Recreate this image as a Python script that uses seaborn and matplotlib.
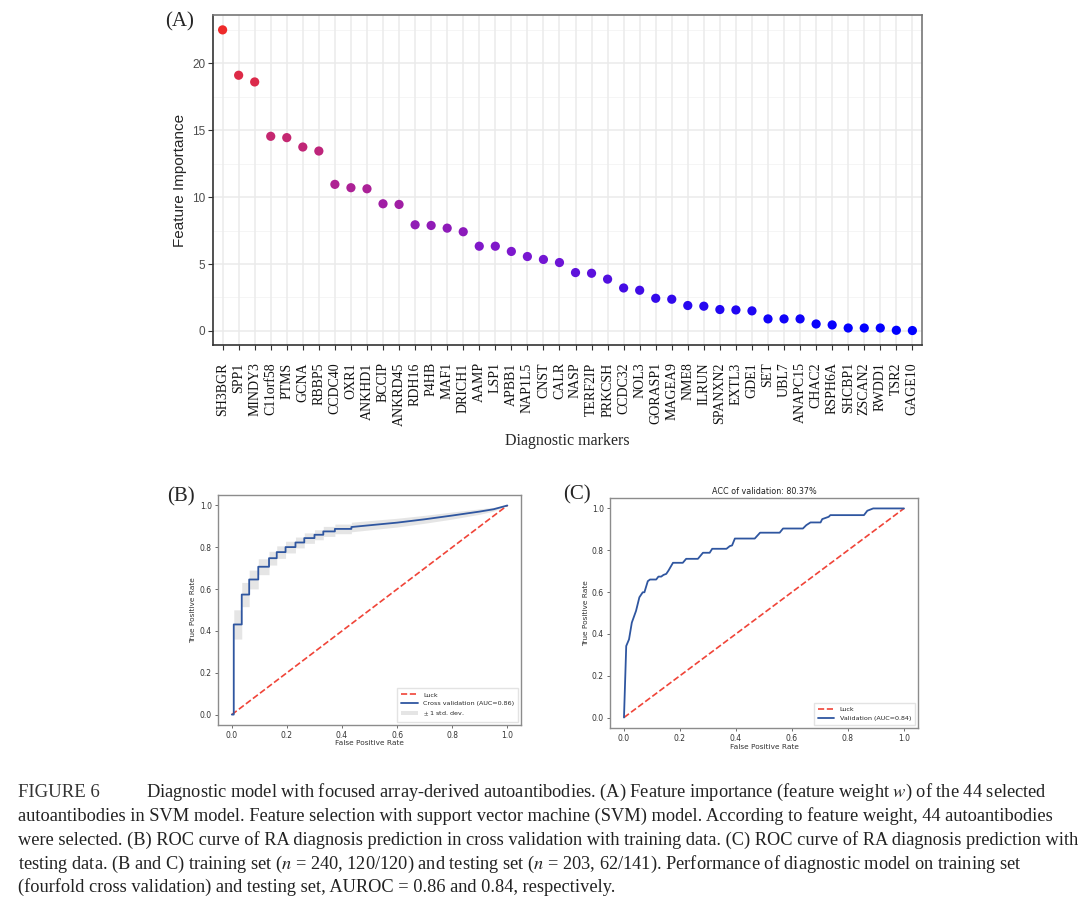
import numpy as np
import pandas as pd
import matplotlib.pyplot as plt
import seaborn as sns
from matplotlib.colors import LinearSegmentedColormap

# Panel A: feature weight of the 44 selected autoantibodies (SVM)
markers = ['SH3BGR', 'SPP1', 'MINDY3', 'C11orf58', 'PTMS', 'GCNA', 'RBBP5',
           'CCDC40', 'OXR1', 'ANKHD1', 'BCCIP', 'ANKRD45', 'RDH16', 'P4HB',
           'MAF1', 'DRICH1', 'AAMP', 'LSP1', 'APBB1', 'NAP1L5', 'CNST', 'CALR',
           'NASP', 'TERF2IP', 'PRKCSH', 'CCDC32', 'NOL3', 'GORASP1', 'MAGEA9',
           'NME8', 'ILRUN', 'SPANXN2', 'EXTL3', 'GDE1', 'SET', 'UBL7',
           'ANAPC15', 'CHAC2', 'RSPH6A', 'SHCBP1', 'ZSCAN2', 'RWDD1', 'TSR2',
           'GAGE10']
importance = [22.49, 19.10, 18.60, 14.54, 14.44, 13.74, 13.44,
              10.95, 10.70, 10.62, 9.50, 9.45, 7.93, 7.88,
              7.68, 7.41, 6.33, 6.33, 5.94, 5.56, 5.34, 5.11,
              4.36, 4.31, 3.87, 3.21, 3.04, 2.44, 2.37,
              1.90, 1.85, 1.60, 1.57, 1.50, 0.90, 0.90,
              0.90, 0.52, 0.45, 0.22, 0.22, 0.22, 0.05,
              0.03]
y_ticks = [0, 5, 10, 15, 20]

# Panel B: mean ROC of fourfold cross validation (training set)
cv_fpr = [0.0, 0.007, 0.007, 0.036, 0.036, 0.063, 0.063, 0.096, 0.096, 0.135,
          0.135, 0.163, 0.163, 0.195, 0.195, 0.231, 0.231, 0.263, 0.263, 0.300,
          0.300, 0.332, 0.332, 0.374, 0.374, 0.434, 0.434, 0.52, 0.60, 0.70,
          0.80, 0.90, 0.95, 1.0]
cv_tpr = [0.0, 0.0, 0.431, 0.431, 0.574, 0.574, 0.646, 0.646, 0.707, 0.707,
          0.748, 0.748, 0.777, 0.777, 0.801, 0.801, 0.823, 0.823, 0.844, 0.844,
          0.860, 0.860, 0.876, 0.876, 0.888, 0.888, 0.897, 0.908, 0.918, 0.934,
          0.952, 0.971, 0.982, 1.0]
cv_std = [0.0, 0.0, 0.07, 0.07, 0.058, 0.058, 0.045, 0.045, 0.038, 0.038,
          0.033, 0.033, 0.03, 0.03, 0.028, 0.028, 0.026, 0.026, 0.025, 0.025,
          0.024, 0.024, 0.024, 0.024, 0.023, 0.023, 0.023, 0.022, 0.021, 0.019,
          0.017, 0.013, 0.009, 0.0]

# Panel C: ROC on testing set
val_fpr = [0.0, 0.008, 0.018, 0.028, 0.043, 0.055, 0.067, 0.073, 0.085, 0.093,
           0.115, 0.123, 0.133, 0.141, 0.151, 0.159, 0.175, 0.210, 0.222, 0.264,
           0.282, 0.306, 0.315, 0.366, 0.378, 0.386, 0.396, 0.467, 0.486, 0.556,
           0.568, 0.639, 0.651, 0.666, 0.702, 0.708, 0.731, 0.737, 0.857, 0.869,
           0.890, 1.0]
val_tpr = [0.0, 0.342, 0.374, 0.454, 0.510, 0.575, 0.599, 0.599, 0.652, 0.660,
           0.660, 0.674, 0.674, 0.682, 0.687, 0.703, 0.740, 0.740, 0.759, 0.759,
           0.788, 0.788, 0.807, 0.807, 0.820, 0.823, 0.856, 0.856, 0.884, 0.884,
           0.904, 0.904, 0.920, 0.933, 0.933, 0.949, 0.960, 0.968, 0.968, 0.989,
           1.0, 1.0]
luck = [0.0, 1.0]
roc_ticks = [0.0, 0.2, 0.4, 0.6, 0.8, 1.0]

caption_head = 'FIGURE 6'
caption_lines = [
    'Diagnostic model with focused array-derived autoantibodies. (A) Feature importance (feature weight $w$) of the 44 selected',
    'autoantibodies in SVM model. Feature selection with support vector machine (SVM) model. According to feature weight, 44 autoantibodies',
    'were selected. (B) ROC curve of RA diagnosis prediction in cross validation with training data. (C) ROC curve of RA diagnosis prediction with',
    'testing data. (B and C) training set ($n$ = 240, 120/120) and testing set ($n$ = 203, 62/141). Performance of diagnostic model on training set',
    '(fourfold cross validation) and testing set, AUROC = 0.86 and 0.84, respectively.',
]

sns.set_style('white')
plt.rcParams['font.family'] = ['DejaVu Sans']
plt.rcParams['mathtext.fontset'] = 'stix'
SERIF = 'Liberation Serif'
SANS = 'Liberation Sans'
LINE_BLUE = '#2F56A0'
LUCK_RED = '#F04438'

fig = plt.figure(figsize=(10.8, 9.21), dpi=100)
axA = fig.add_axes([0.1972, 0.6254, 0.6565, 0.3583])
axB = fig.add_axes([0.2019, 0.2128, 0.2806, 0.2497])
axC = fig.add_axes([0.5648, 0.2096, 0.2852, 0.2497])

# ---------- (A) feature importance ----------
df = pd.DataFrame({'marker': markers, 'importance': importance})
cmap = LinearSegmentedColormap.from_list(
    'blue_red', ['#0000FF', '#7A17D0', '#B2228F', '#D22A5A', '#EE2A2A'])
axA.set_axisbelow(True)
for y in np.arange(2.5, 25, 5):
    axA.axhline(y, color='#F4F4F4', lw=0.6, zorder=0)
for y in y_ticks:
    axA.axhline(y, color='#EBEBEB', lw=1.1, zorder=0)
for i in range(len(markers)):
    axA.axvline(i, color='#EBEBEB', lw=1.1, zorder=0)
sns.scatterplot(data=df, x='marker', y='importance', hue='importance',
                palette=cmap, hue_norm=(min(importance), max(importance)),
                s=44, linewidth=0, legend=False, ax=axA, zorder=3)
axA.set_xlim(-0.6, len(markers) - 0.4)
axA.set_ylim(-1.05, 23.6)
axA.set_xticks(range(len(markers)), markers, rotation=90,
               fontfamily=SERIF, fontsize=10, color='#111111')
axA.set_yticks(y_ticks, [str(t) for t in y_ticks], fontfamily=SANS,
               fontsize=8.5, color='#4D4D4D')
axA.tick_params(axis='both', length=3.5, width=0.8, color='#333333',
                direction='out', left=True, bottom=True, pad=2)
axA.tick_params(axis='x', pad=9)
for side in ['top', 'right']:
    axA.spines[side].set_color('#777777')
    axA.spines[side].set_linewidth(1.2)
for side in ['left', 'bottom']:
    axA.spines[side].set_color('#333333')
    axA.spines[side].set_linewidth(1.2)
axA.set_ylabel('Feature Importance', fontfamily=SANS, fontsize=11)
axA.yaxis.set_label_coords(-0.037, 0.5)
axA.set_xlabel('Diagnostic markers', fontfamily=SERIF, fontsize=11.5)
axA.xaxis.set_label_coords(0.5, -0.268)


def style_roc(ax):
    ax.set_xlim(-0.05, 1.05)
    ax.set_ylim(-0.05, 1.05)
    labels = ['%.1f' % t for t in roc_ticks]
    ax.set_xticks(roc_ticks, labels)
    ax.set_yticks(roc_ticks, labels)
    ax.tick_params(axis='both', labelsize=5.5, length=2.5, width=0.6,
                   color='#555555', labelcolor='#333333', left=True,
                   bottom=True, pad=2)
    for sp in ax.spines.values():
        sp.set_color('#8C8C8C')
        sp.set_linewidth(1.0)
    ax.set_xlabel('False Positive Rate', fontsize=5.3, color='#333333')
    ax.set_ylabel('True Positive Rate', fontsize=5.3, color='#333333')


# ---------- (B) cross validation ----------
sns.lineplot(x=luck, y=luck, ax=axB, color=LUCK_RED, lw=1.2,
             linestyle='--', label='Luck')
sns.lineplot(x=cv_fpr, y=cv_tpr, ax=axB, estimator=None, sort=False,
             color=LINE_BLUE, lw=1.3, label='Cross validation (AUC=0.86)')
tpr_arr = np.array(cv_tpr)
std_arr = np.array(cv_std)
axB.fill_between(cv_fpr, np.maximum(tpr_arr - std_arr, 0),
                 np.minimum(tpr_arr + std_arr, 1), color='grey', alpha=0.2,
                 lw=0, label=r'$\pm$ 1 std. dev.')
style_roc(axB)
axB.xaxis.set_label_coords(0.5, -0.065)
axB.yaxis.set_label_coords(-0.073, 0.5)
axB.legend(loc='lower right', fontsize=4.6, frameon=True, handlelength=2.6,
           borderpad=0.6, labelspacing=0.5, fancybox=False,
           edgecolor='#DDDDDD')

# ---------- (C) testing set ----------
sns.lineplot(x=luck, y=luck, ax=axC, color=LUCK_RED, lw=1.2,
             linestyle='--', label='Luck')
sns.lineplot(x=val_fpr, y=val_tpr, ax=axC, estimator=None, sort=False,
             color=LINE_BLUE, lw=1.3, label='Validation (AUC=0.84)')
style_roc(axC)
axC.xaxis.set_label_coords(0.5, -0.068)
axC.yaxis.set_label_coords(-0.068, 0.5)
axC.set_title('ACC of validation: 80.37%', fontsize=5.8, color='#222222',
              pad=3)
axC.legend(loc='lower right', fontsize=4.6, frameon=True, handlelength=2.6,
           borderpad=0.6, labelspacing=0.5, fancybox=False,
           edgecolor='#DDDDDD')

# panel letters
fig.text(180 / 1080, 1 - 22 / 921, '(A)', fontfamily=SERIF, fontsize=15,
         ha='center', va='center')
fig.text(181 / 1080, 1 - 497 / 921, '(B)', fontfamily=SERIF, fontsize=15,
         ha='center', va='center')
fig.text(577 / 1080, 1 - 495 / 921, '(C)', fontfamily=SERIF, fontsize=15,
         ha='center', va='center')

# caption
line_y = [792, 816, 840, 864, 887]
fig.text(18 / 1080, 1 - line_y[0] / 921, caption_head, fontfamily=SERIF,
         fontsize=13.5, va='center', color='#333333')
for i, line in enumerate(caption_lines):
    x0 = 146 if i == 0 else 18
    fig.text(x0 / 1080, 1 - line_y[i] / 921, line, fontfamily=SERIF,
             fontsize=13.2, va='center', color='#222222')

plt.savefig('out.png', dpi=100)
